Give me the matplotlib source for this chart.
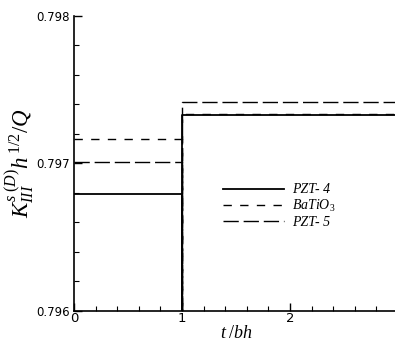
import matplotlib
matplotlib.use('Agg')
import matplotlib.pyplot as plt
from matplotlib.ticker import MultipleLocator

plt.rcParams['mathtext.fontset'] = 'custom'
plt.rcParams['mathtext.rm'] = 'Liberation Serif'
plt.rcParams['mathtext.it'] = 'Liberation Serif:italic'

# data: step at t = 1 (line drops to the axis and jumps up)
t = [0, 1, 1, 1, 3]
dip = 0.7955
pzt4 = [0.796791, 0.796791, dip, 0.797327, 0.797327]
batio3 = [0.797164, 0.797164, dip, 0.797333, 0.797333]
pzt5 = [0.797012, 0.797012, dip, 0.797415, 0.797415]
labels = ['PZT- 4', r'BaTiO$_3$', 'PZT- 5']

fig = plt.figure(figsize=(3.95, 3.43), dpi=100)
ax = fig.add_axes([0.1873, 0.0933, 0.8203, 0.8601])

ax.plot(t, pzt4, color='black', lw=1.3, ls='-', label=labels[0])
ax.plot(t, batio3, color='black', lw=1.0, ls=(0, (6, 6)), label=labels[1])
ax.plot(t, pzt5, color='black', lw=1.0, ls=(0, (11, 3.5)), label=labels[2])

ax.set_xlim(0, 3)
ax.set_ylim(0.796, 0.798)
ax.xaxis.set_major_locator(MultipleLocator(1))
ax.xaxis.set_minor_locator(MultipleLocator(0.2))
ax.yaxis.set_major_locator(MultipleLocator(0.001))
ax.yaxis.set_minor_locator(MultipleLocator(0.0002))
ax.yaxis.set_major_formatter(matplotlib.ticker.FormatStrFormatter('%.3f'))

ax.tick_params(which='both', direction='in', colors='black', labelsize=8.5)
ax.tick_params(which='major', length=6, width=1)
ax.tick_params(which='minor', length=3.5, width=0.8)
ax.tick_params(axis='x', pad=1, labelsize=9.5)
ax.tick_params(axis='y', pad=3)

for s in ['top', 'right']:
    ax.spines[s].set_visible(False)
for s in ['left', 'bottom']:
    ax.spines[s].set_linewidth(1.2)

ax.set_xlabel(r'$t\;/bh$', fontsize=13, labelpad=-1)
ax.set_ylabel(r'$K_{III}^{s\;(D)}h^{\,1/2}/Q$', fontsize=16.5, labelpad=0)

leg = ax.legend(loc='upper left', bbox_to_anchor=(0.42, 0.475), frameon=False,
                handlelength=4.4, handletextpad=0.6, labelspacing=0.12,
                prop={'family': 'Liberation Serif', 'style': 'italic', 'size': 10})

fig.savefig('out.png', dpi=100)
